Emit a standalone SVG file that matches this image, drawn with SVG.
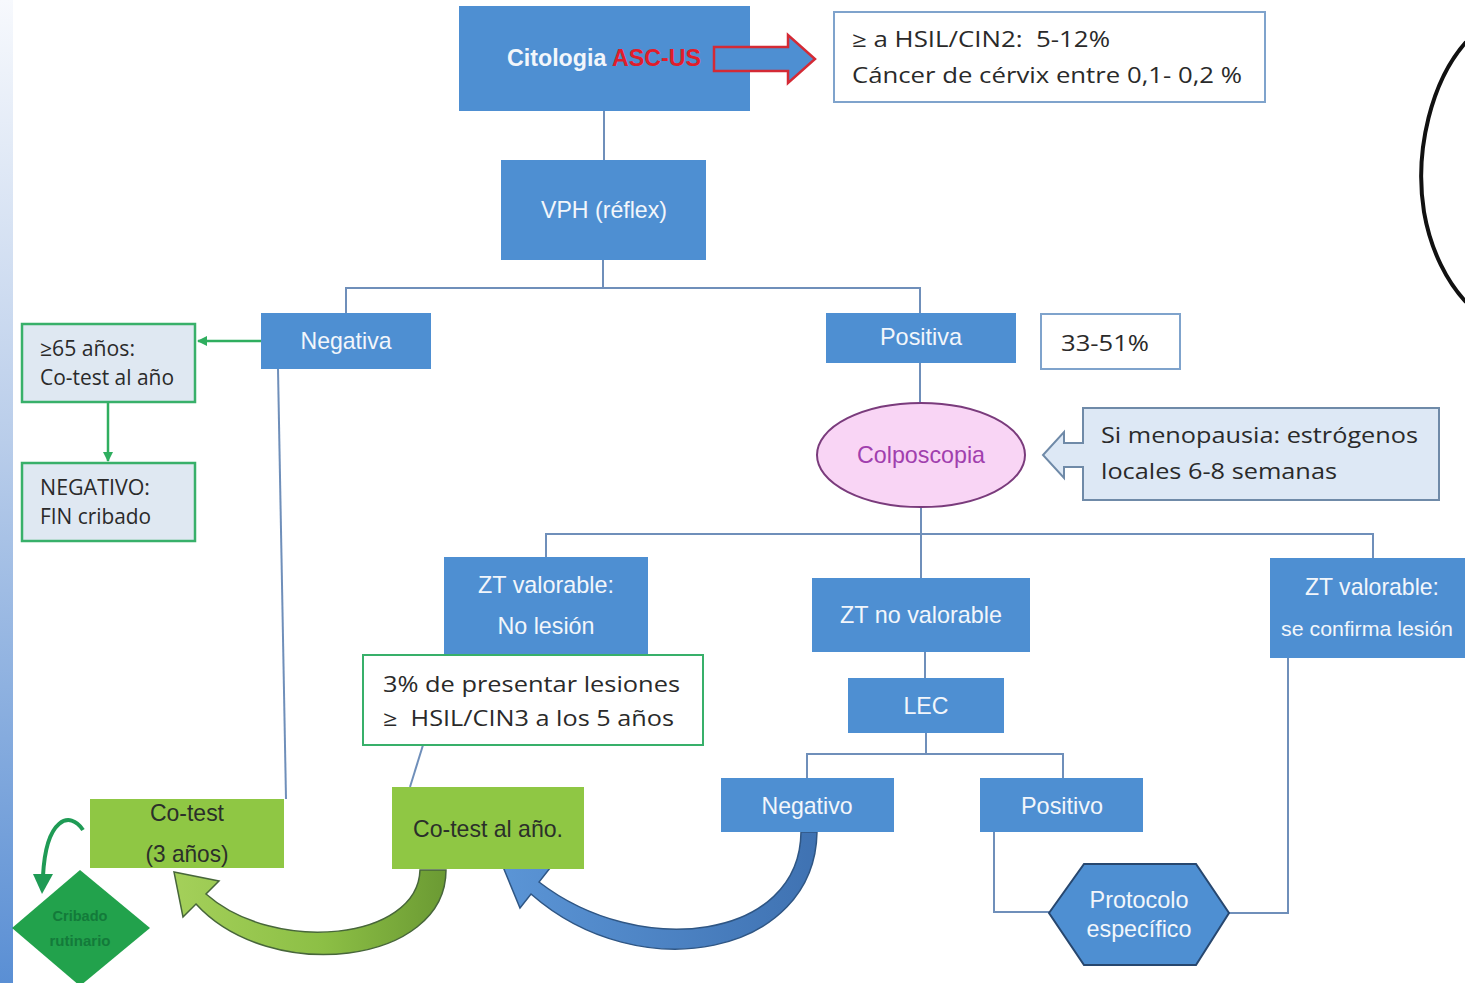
<svg xmlns="http://www.w3.org/2000/svg" width="1465" height="983" viewBox="0 0 1465 983">
  <defs>
    <linearGradient id="strip" x1="0" y1="0" x2="0" y2="1">
      <stop offset="0" stop-color="#f7f9fd"/>
      <stop offset="0.45" stop-color="#b9cdea"/>
      <stop offset="1" stop-color="#5a8fd4"/>
    </linearGradient>
    <linearGradient id="greenBand" x1="0" y1="0" x2="1" y2="0">
      <stop offset="0" stop-color="#a4d05a"/>
      <stop offset="0.55" stop-color="#8cbf45"/>
      <stop offset="1" stop-color="#6b9a33"/>
    </linearGradient>
    <linearGradient id="blueBand" x1="0" y1="0" x2="1" y2="0">
      <stop offset="0" stop-color="#5b95d6"/>
      <stop offset="1" stop-color="#3f72b2"/>
    </linearGradient>
    <marker id="gArrow" viewBox="0 0 10 10" refX="9" refY="5" markerWidth="4" markerHeight="4" orient="auto">
      <path d="M0,0 L10,5 L0,10 z" fill="#2fae5f"/>
    </marker>
  </defs>
  <style>
    .box { fill: #4e8fd2; }
    .conn { fill: none; stroke: #6f8fba; stroke-width: 2; }
    .gconn { fill: none; stroke: #2fae5f; stroke-width: 2.5; }
    .lbl { font-family: "Liberation Sans Narrow", "Liberation Sans", Arial, sans-serif; font-size: 24px; fill: #f2f6fb; text-anchor: middle; }
    .dlbl { font-family: "Liberation Sans Narrow", "Liberation Sans", Arial, sans-serif; font-size: 24px; fill: #2b2f2a; text-anchor: middle; }
    .cal { font-family: "Open Sans", "Noto Sans", "DejaVu Sans", sans-serif; font-size: 21px; fill: #2a2a2a; }
    .note { fill: #ffffff; stroke: #7fa3cc; stroke-width: 2; }
    .gnote { fill: #dfe8f2; stroke: #38b06a; stroke-width: 2.5; }
    .gbox { fill: #8fc744; }
  </style>

  <!-- side band -->
  <rect x="0" y="0" width="13" height="983" fill="url(#strip)"/>

  <!-- decorative black arc, top right -->
  <path d="M1466,42 C1432,80 1414,150 1424,212 C1431,252 1448,283 1466,302" fill="none" stroke="#111" stroke-width="4"/>

  <!-- connectors -->
  <g id="connectors">
    <line class="conn" x1="604" y1="111" x2="604" y2="160"/>
    <polyline class="conn" points="603,260 603,288"/>
    <polyline class="conn" points="346,313 346,288 920,288 920,313"/>
    <line class="conn" x1="278" y1="369" x2="286" y2="799"/>
    <line class="conn" x1="920" y1="363" x2="920" y2="402"/>
    <line class="conn" x1="921" y1="507" x2="921" y2="578"/>
    <polyline class="conn" points="546,557 546,534 1373,534 1373,558"/>
    <line class="conn" x1="925" y1="652" x2="925" y2="678"/>
    <line class="conn" x1="926" y1="733" x2="926" y2="754"/>
    <polyline class="conn" points="807,778 807,754 1063,754 1063,778"/>
    <polyline class="conn" points="994,832 994,912 1049,912"/>
    <polyline class="conn" points="1229,913 1288,913 1288,658"/>
    <line class="conn" x1="423" y1="745" x2="410" y2="787"/>
    <!-- green links on the left -->
    <line class="gconn" x1="261" y1="341" x2="198" y2="341" marker-end="url(#gArrow)"/>
    <line class="gconn" x1="108" y1="402" x2="108" y2="461" marker-end="url(#gArrow)"/>
    <!-- small curved arrow towards the diamond -->
    <path d="M83,830 C70,810 46,818 43,876" fill="none" stroke="#1f9b55" stroke-width="4"/>
    <polygon points="33,874 53,874 42,894" fill="#1f9b55"/>
    <!-- broad green curved arrow -->
    <path d="M446,870 C446,965 270,985 196,904 L183,917 L174,872 L219,881 L206,894 C275,955 418,940 420,870 Z" fill="url(#greenBand)" stroke="#47663a" stroke-width="1.5"/>
    <!-- broad blue curved arrow -->
    <path d="M817,832 C815,955 640,990 531,894 L520,908 L501,862 L550,868 L539,882 C640,960 800,940 801,832 Z" fill="url(#blueBand)" stroke="#2f5684" stroke-width="1.5"/>
  </g>

  <g id="citologia">
    <rect class="box" x="459" y="6" width="291" height="105"/>
    <text class="lbl" x="604" y="66" textLength="194" lengthAdjust="spacingAndGlyphs" font-weight="bold">Citologia <tspan fill="#e11d2b">ASC-US</tspan></text>
    <!-- red-outlined block arrow, overlapping the box edge -->
    <polygon points="714,47 788,47 788,35 815,59 788,83 788,71 714,71" fill="#4e8fd2" stroke="#d42a35" stroke-width="2.5"/>
  </g>

  <g id="riesgo">
    <rect class="note" x="834" y="12" width="431" height="90"/>
    <text class="cal" x="852" y="47" textLength="258" lengthAdjust="spacingAndGlyphs">≥ a HSIL/CIN2:&#160; 5-12%</text>
    <text class="cal" x="852" y="83" textLength="390" lengthAdjust="spacingAndGlyphs">Cáncer de cérvix entre 0,1- 0,2 %</text>
  </g>

  <g id="vph">
    <rect class="box" x="501" y="160" width="205" height="100"/>
    <text class="lbl" x="604" y="218" textLength="126" lengthAdjust="spacingAndGlyphs">VPH (réflex)</text>
  </g>

  <g id="negativa">
    <rect class="box" x="261" y="313" width="170" height="56"/>
    <text class="lbl" x="346" y="349" textLength="91" lengthAdjust="spacingAndGlyphs">Negativa</text>
  </g>

  <g id="positiva">
    <rect class="box" x="826" y="313" width="190" height="50"/>
    <text class="lbl" x="921" y="345" textLength="82" lengthAdjust="spacingAndGlyphs">Positiva</text>
  </g>

  <g id="porcentaje">
    <rect class="note" x="1041" y="314" width="139" height="55"/>
    <text class="cal" x="1105" y="351" text-anchor="middle" textLength="88" lengthAdjust="spacingAndGlyphs">33-51%</text>
  </g>

  <g id="mayores65">
    <rect class="gnote" x="22" y="324" width="173" height="78"/>
    <text class="cal" x="40" y="356" font-size="19" textLength="95" lengthAdjust="spacingAndGlyphs">≥65 años:</text>
    <text class="cal" x="40" y="385" font-size="19" textLength="134" lengthAdjust="spacingAndGlyphs">Co-test al año</text>
  </g>

  <g id="fin-cribado">
    <rect class="gnote" x="22" y="463" width="173" height="78"/>
    <text class="cal" x="40" y="495" font-size="19" textLength="110" lengthAdjust="spacingAndGlyphs">NEGATIVO:</text>
    <text class="cal" x="40" y="524" font-size="19" textLength="111" lengthAdjust="spacingAndGlyphs">FIN cribado</text>
  </g>

  <g id="colposcopia">
    <ellipse cx="921" cy="455" rx="104" ry="52" fill="#f9d5f5" stroke="#7a3b7c" stroke-width="2"/>
    <text class="lbl" x="921" y="463" style="fill:#a13fae" textLength="128" lengthAdjust="spacingAndGlyphs">Colposcopia</text>
  </g>

  <g id="menopausia">
    <polygon points="1083,408 1439,408 1439,500 1083,500 1083,467 1064,467 1064,478 1043,455 1064,432 1064,443 1083,443" fill="#dde8f5" stroke="#6f8aa8" stroke-width="2"/>
    <text class="cal" x="1101" y="443" textLength="317" lengthAdjust="spacingAndGlyphs">Si menopausia: estrógenos</text>
    <text class="cal" x="1101" y="479" textLength="236" lengthAdjust="spacingAndGlyphs">locales 6-8 semanas</text>
  </g>

  <g id="zt-no-lesion">
    <rect class="box" x="444" y="557" width="204" height="100"/>
    <text class="lbl" x="546" y="593" textLength="136" lengthAdjust="spacingAndGlyphs">ZT valorable:</text>
    <text class="lbl" x="546" y="634" textLength="97" lengthAdjust="spacingAndGlyphs">No lesión</text>
  </g>

  <g id="riesgo-cin3">
    <rect x="363" y="655" width="340" height="90" fill="#ffffff" stroke="#38b06a" stroke-width="2"/>
    <text class="cal" x="383" y="692" textLength="297" lengthAdjust="spacingAndGlyphs">3% de presentar lesiones</text>
    <text class="cal" x="383" y="726" textLength="291" lengthAdjust="spacingAndGlyphs">≥&#160; HSIL/CIN3 a los 5 años</text>
  </g>

  <g id="zt-no-valorable">
    <rect class="box" x="812" y="578" width="218" height="74"/>
    <text class="lbl" x="921" y="623" textLength="162" lengthAdjust="spacingAndGlyphs">ZT no valorable</text>
  </g>

  <g id="lec">
    <rect class="box" x="848" y="678" width="156" height="55"/>
    <text class="lbl" x="926" y="714" textLength="45" lengthAdjust="spacingAndGlyphs">LEC</text>
  </g>

  <g id="zt-lesion">
    <rect class="box" x="1270" y="558" width="195" height="100"/>
    <text class="lbl" x="1372" y="595" textLength="134" lengthAdjust="spacingAndGlyphs">ZT valorable:</text>
    <text class="lbl" x="1367" y="636" font-size="21" textLength="172" lengthAdjust="spacingAndGlyphs" style="font-size:21px">se confirma lesión</text>
  </g>

  <g id="lec-negativo">
    <rect class="box" x="721" y="778" width="173" height="54"/>
    <text class="lbl" x="807" y="814" textLength="91" lengthAdjust="spacingAndGlyphs">Negativo</text>
  </g>

  <g id="lec-positivo">
    <rect class="box" x="980" y="778" width="163" height="54"/>
    <text class="lbl" x="1062" y="814" textLength="82" lengthAdjust="spacingAndGlyphs">Positivo</text>
  </g>

  <g id="protocolo">
    <polygon points="1049,913 1084,864 1196,864 1229,913 1196,965 1084,965" fill="#4e8fd2" stroke="#27476f" stroke-width="2"/>
    <text class="lbl" x="1139" y="908" textLength="99" lengthAdjust="spacingAndGlyphs">Protocolo</text>
    <text class="lbl" x="1139" y="937" textLength="105" lengthAdjust="spacingAndGlyphs">específico</text>
  </g>

  <g id="cotest-3">
    <rect class="gbox" x="90" y="799" width="194" height="69"/>
    <text class="dlbl" x="187" y="821" textLength="74" lengthAdjust="spacingAndGlyphs">Co-test</text>
    <text class="dlbl" x="187" y="862" textLength="83" lengthAdjust="spacingAndGlyphs">(3 años)</text>
  </g>

  <g id="cotest-anual">
    <rect class="gbox" x="392" y="787" width="192" height="82"/>
    <text class="dlbl" x="488" y="837" textLength="150" lengthAdjust="spacingAndGlyphs">Co-test al año.</text>
  </g>

  <g id="cribado-rutinario">
    <polygon points="80,870 150,928 80,986 12,928" fill="#22a24c"/>
    <text x="80" y="921" font-family="'Liberation Sans Narrow', 'Liberation Sans', Arial, sans-serif" font-size="15" font-weight="bold" fill="#137a3a" text-anchor="middle" textLength="55" lengthAdjust="spacingAndGlyphs">Cribado</text>
    <text x="80" y="946" font-family="'Liberation Sans Narrow', 'Liberation Sans', Arial, sans-serif" font-size="15" font-weight="bold" fill="#137a3a" text-anchor="middle" textLength="61" lengthAdjust="spacingAndGlyphs">rutinario</text>
  </g>
</svg>
